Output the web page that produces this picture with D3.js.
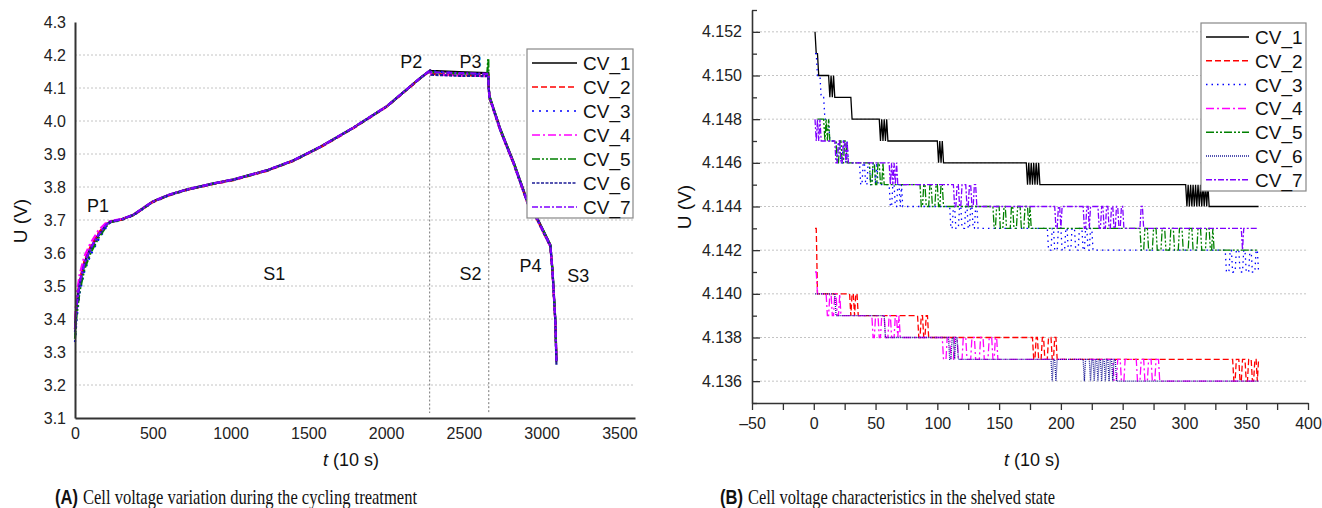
<!DOCTYPE html>
<html>
<head>
<meta charset="utf-8">
<script src="https://cdn.jsdelivr.net/npm/d3@7"></script>
<style>
body { margin: 0; background: #fff; }
svg { display: block; font-family: "Liberation Sans", Arial, sans-serif; }
</style>
</head>
<body>
<svg id="chart" width="1322" height="508"></svg>
<script>
// ---- series definitions ----
var seriesNames = ["CV_1", "CV_2", "CV_3", "CV_4", "CV_5", "CV_6", "CV_7"];
var seriesColors = ["#000000", "#ff0000", "#0000ff", "#ff00ff", "#008000", "#1c1c96", "#8000ff"];
var seriesDash = ["", "6,3", "2,5", "8,3,2,3", "8,2,2,2,2,2", "3,1.5", "6,2,2,2"];

// ---- (A) cycling treatment, t in 10 s ----
var cycleTime = [0, 10, 30, 60, 100, 150, 200, 225, 300, 375,
	500, 600, 720, 890, 1020, 1235, 1405, 1577, 1789, 2007,
	2220, 2270, 2282, 2290, 2470, 2650, 2657, 2659, 2665, 2735,
	2820, 2910, 2972, 3056, 3070, 3088, 3095];
var cycleCV1 = [3.37, 3.44, 3.51, 3.57, 3.615, 3.655, 3.685, 3.695, 3.702, 3.716,
	3.756, 3.776, 3.793, 3.811, 3.823, 3.851, 3.881, 3.922, 3.980, 4.046,
	4.131, 4.149, 4.153, 4.152, 4.148, 4.145, 4.145, 4.105, 4.075, 3.975,
	3.875, 3.755, 3.705, 3.625, 3.545, 3.395, 3.27];
var cycleCV2 = [3.37, 3.445, 3.515, 3.575, 3.62, 3.66, 3.688, 3.694, 3.701, 3.714,
	3.754, 3.774, 3.791, 3.809, 3.821, 3.849, 3.879, 3.920, 3.978, 4.044,
	4.129, 4.147, 4.151, 4.143, 4.139, 4.137, 4.137, 4.100, 4.070, 3.970,
	3.870, 3.750, 3.700, 3.620, 3.540, 3.390, 3.28];
var cycleCV3 = [3.33, 3.40, 3.48, 3.545, 3.595, 3.64, 3.678, 3.692, 3.700, 3.714,
	3.754, 3.774, 3.791, 3.810, 3.822, 3.850, 3.880, 3.921, 3.979, 4.045,
	4.130, 4.148, 4.152, 4.151, 4.145, 4.141, 4.141, 4.102, 4.072, 3.972,
	3.872, 3.752, 3.702, 3.622, 3.542, 3.392, 3.27];
var cycleCV4 = [3.40, 3.47, 3.535, 3.59, 3.63, 3.668, 3.692, 3.697, 3.703, 3.716,
	3.756, 3.776, 3.792, 3.810, 3.822, 3.850, 3.880, 3.921, 3.979, 4.045,
	4.130, 4.148, 4.152, 4.141, 4.138, 4.136, 4.136, 4.100, 4.070, 3.970,
	3.870, 3.750, 3.700, 3.620, 3.540, 3.390, 3.28];
var cycleCV5 = [3.34, 3.41, 3.485, 3.55, 3.60, 3.645, 3.68, 3.693, 3.701, 3.715,
	3.755, 3.775, 3.792, 3.810, 3.822, 3.850, 3.880, 3.921, 3.979, 4.045,
	4.130, 4.148, 4.152, 4.148, 4.144, 4.142, 4.19, 4.104, 4.074, 3.974,
	3.874, 3.754, 3.704, 3.624, 3.544, 3.394, 3.27];
var cycleCV6 = [3.36, 3.435, 3.505, 3.565, 3.612, 3.652, 3.684, 3.694, 3.702, 3.715,
	3.755, 3.775, 3.792, 3.810, 3.822, 3.850, 3.880, 3.921, 3.979, 4.045,
	4.130, 4.148, 4.152, 4.140, 4.137, 4.136, 4.136, 4.100, 4.070, 3.970,
	3.870, 3.750, 3.700, 3.620, 3.540, 3.390, 3.26];
var cycleCV7 = [3.37, 3.44, 3.51, 3.57, 3.615, 3.655, 3.686, 3.695, 3.702, 3.716,
	3.756, 3.776, 3.793, 3.811, 3.823, 3.851, 3.881, 3.922, 3.980, 4.046,
	4.131, 4.149, 4.153, 4.148, 4.145, 4.143, 4.143, 4.103, 4.073, 3.973,
	3.873, 3.753, 3.703, 3.623, 3.543, 3.393, 3.27];

var cycleTicksY = [3.1, 3.2, 3.3, 3.4, 3.5, 3.6, 3.7, 3.8, 3.9, 4.0, 4.1, 4.2, 4.3];
var cycleGridY = [3.2, 3.3, 3.4, 3.5, 3.6, 3.7, 3.8, 3.9, 4.0, 4.1, 4.2];
var cycleTicksX = [0, 500, 1000, 1500, 2000, 2500, 3000, 3500];
// stage boundaries: [t, top voltage]
var stageLines = [[2280, 4.150], [2660, 4.142]];
var stageLabels = [
	{text: "P1", t: 77, v: 3.724},
	{text: "P2", t: 2091, v: 4.161},
	{text: "P3", t: 2471, v: 4.161},
	{text: "S1", t: 1210, v: 3.518},
	{text: "S2", t: 2471, v: 3.518},
	{text: "P4", t: 2857, v: 3.542},
	{text: "S3", t: 3165, v: 3.512}
];

// ---- (B) shelved state: [t, U] at each sample where the reading changes ----
var shelfCV1 = [[1,4.152],[2,4.151],[4,4.150],[13,4.149],[14,4.150],[15,4.149],[16,4.150],[17,4.149],
	[31,4.148],[54,4.147],[55,4.148],[56,4.147],[57,4.148],[58,4.147],[59,4.148],[60,4.147],
	[101,4.146],[102,4.147],[103,4.146],[104,4.147],[105,4.146],
	[173,4.145],[174,4.146],[175,4.145],[176,4.146],[177,4.145],[178,4.146],[179,4.145],[180,4.146],[181,4.145],[182,4.146],[183,4.145],
	[302,4.144],[303,4.145],[304,4.144],[305,4.145],[306,4.144],[307,4.145],[308,4.144],[309,4.145],[310,4.144],[311,4.145],
	[312,4.144],[313,4.145],[314,4.144],[315,4.145],[316,4.144],[317,4.145],[318,4.144],[319,4.145],[320,4.144],[360,4.144]];
var shelfCV2 = [[1,4.143],[2,4.143],[3,4.140],
	[30,4.139],[31,4.140],[33,4.139],[34,4.140],[36,4.139],
	[85,4.138],[87,4.139],[89,4.138],[91,4.139],[93,4.138],
	[178,4.137],[180,4.138],[182,4.137],[185,4.138],[187,4.137],[190,4.138],[193,4.137],[195,4.138],[197,4.137],
	[340,4.136],[342,4.137],[345,4.136],[347,4.137],[350,4.136],[352,4.137],[355,4.136],[357,4.137],[359,4.136],[360,4.137]];
var shelfCV3 = [[1,4.151],[3,4.150],[6,4.149],[9,4.148],[13,4.147],
	[19,4.146],[20,4.147],[22,4.146],[24,4.147],[26,4.146],[27,4.147],[28,4.146],
	[38,4.145],[40,4.146],[42,4.145],[44,4.146],[46,4.145],[48,4.146],[50,4.145],[51,4.146],[52,4.145],
	[62,4.144],[64,4.145],[66,4.144],[68,4.145],[70,4.144],[71,4.145],[72,4.144],
	[111,4.143],[113,4.144],[115,4.143],[118,4.144],[120,4.143],[123,4.144],[125,4.143],[127,4.144],[129,4.143],[131,4.144],[133,4.143],
	[190,4.142],[193,4.143],[195,4.142],[198,4.143],[201,4.142],[204,4.143],[206,4.142],[209,4.143],[212,4.142],[215,4.143],
	[218,4.142],[220,4.143],[222,4.142],[224,4.143],[226,4.142],
	[334,4.141],[337,4.142],[339,4.141],[342,4.142],[345,4.141],[348,4.142],[350,4.141],[353,4.142],[355,4.141],[358,4.142],[360,4.141]];
var shelfCV4 = [[1,4.141],[3,4.140],
	[11,4.139],[13,4.140],[15,4.139],[17,4.140],[19,4.139],[21,4.140],[22,4.139],
	[48,4.138],[50,4.139],[53,4.138],[55,4.139],[58,4.138],[61,4.139],[63,4.138],[66,4.139],[68,4.138],[69,4.139],[70,4.138],
	[105,4.137],[108,4.138],[111,4.137],[114,4.138],[117,4.137],[121,4.138],[124,4.137],[128,4.138],[131,4.137],[135,4.138],
	[138,4.137],[142,4.138],[145,4.137],[147,4.138],[149,4.137],
	[243,4.136],[246,4.137],[249,4.136],[252,4.137],[262,4.136],[265,4.137],[268,4.136],[271,4.137],[274,4.136],[277,4.137],[280,4.136],[360,4.136]];
var shelfCV5 = [[3,4.148],[9,4.147],[10,4.148],[11,4.147],[12,4.148],[13,4.147],
	[19,4.146],[21,4.147],[23,4.146],[25,4.147],[27,4.146],
	[46,4.145],[48,4.146],[50,4.145],[52,4.146],[54,4.145],[56,4.146],[57,4.145],
	[87,4.144],[89,4.145],[91,4.144],[94,4.145],[96,4.144],[99,4.145],[101,4.144],[103,4.145],[105,4.144],
	[146,4.143],[148,4.144],[151,4.143],[154,4.144],[156,4.143],[160,4.144],[162,4.143],[165,4.144],[168,4.143],[171,4.144],
	[174,4.143],[175,4.144],[176,4.143],
	[265,4.142],[268,4.143],[271,4.142],[275,4.143],[278,4.142],[282,4.143],[285,4.142],[289,4.143],[292,4.142],[296,4.143],
	[299,4.142],[304,4.143],[307,4.142],[311,4.143],[314,4.142],[318,4.143],[321,4.142],[323,4.143],[324,4.142],[360,4.142]];
var shelfCV6 = [[1,4.140],[18,4.139],[58,4.138],
	[110,4.137],[112,4.138],[114,4.137],[115,4.138],[117,4.137],
	[193,4.136],[194,4.137],[196,4.136],[197,4.137],
	[219,4.136],[220,4.137],[224,4.136],[225,4.137],[227,4.136],[228,4.137],[230,4.136],[231,4.137],[233,4.136],[234,4.137],
	[236,4.136],[237,4.137],[239,4.136],[240,4.137],[242,4.136],[243,4.137],[245,4.136],[360,4.136]];
var shelfCV7 = [[1,4.148],[2,4.147],[3,4.148],[4,4.147],[5,4.148],[6,4.147],
	[18,4.146],[20,4.147],[22,4.146],[24,4.147],[26,4.146],[27,4.147],[28,4.146],
	[62,4.145],[63,4.146],[64,4.145],[65,4.146],[66,4.145],[67,4.146],[68,4.145],
	[114,4.144],[116,4.145],[118,4.144],[120,4.145],[124,4.144],[126,4.145],[128,4.144],[130,4.145],[132,4.144],
	[196,4.143],[198,4.144],[200,4.143],[201,4.144],[219,4.143],[221,4.144],[223,4.143],[224,4.144],
	[231,4.143],[233,4.144],[235,4.143],[237,4.144],[239,4.143],[241,4.144],[243,4.143],[245,4.144],[247,4.143],[249,4.144],[251,4.143],
	[265,4.144],[267,4.143],[347,4.142],[348,4.143],[360,4.143]];

var shelfTicksY = [4.136, 4.138, 4.140, 4.142, 4.144, 4.146, 4.148, 4.150, 4.152];
var shelfMinorY = [4.135, 4.137, 4.139, 4.141, 4.143, 4.145, 4.147, 4.149, 4.151, 4.153];
var shelfTicksX = [-50, 0, 50, 100, 150, 200, 250, 300, 350, 400];
var shelfMinorX = [-25, 25, 75, 125, 175, 225, 275, 325, 375];

var cycleSeries = [cycleCV1, cycleCV2, cycleCV3, cycleCV4, cycleCV5, cycleCV6, cycleCV7];
var shelfSeries = [shelfCV1, shelfCV2, shelfCV3, shelfCV4, shelfCV5, shelfCV6, shelfCV7];

var svg = d3.select("#chart");

/**
 * Legend box drawn over the plot.
 */
function drawLegend(g, box, rowY, rowH, lineX0, lineX1, textX, dashMod){
	var lg = g.append("g");
	lg.append("rect")
	.attr("x", box[0]).attr("y", box[1])
	.attr("width", box[2]).attr("height", box[3])
	.attr("fill", "#fff")
	.attr("stroke", "#888")
	.attr("stroke-width", 1.2);
	seriesNames.forEach(function(name, i){
		var y = rowY + i * rowH;
		lg.append("line")
		.attr("x1", lineX0).attr("x2", lineX1)
		.attr("y1", y).attr("y2", y)
		.attr("stroke", seriesColors[i])
		.attr("stroke-width", 1.5)
		.attr("stroke-dasharray", dashMod[i]);
		lg.append("text")
		.attr("x", textX).attr("y", y + 7)
		.attr("font-size", 19)
		.attr("fill", "#111")
		.text(name);
	});
}

function axisTitleX(x, y){
	var t = svg.append("text")
	.attr("x", x).attr("y", y)
	.attr("text-anchor", "middle")
	.attr("font-size", 18)
	.attr("fill", "#111");
	t.append("tspan").attr("font-style", "italic").text("t");
	t.append("tspan").text(" (10 s)");
}

function axisTitleY(x, y){
	svg.append("text")
	.attr("transform", "translate(" + x + "," + y + ") rotate(-90)")
	.attr("text-anchor", "middle")
	.attr("font-size", 19)
	.attr("fill", "#111")
	.text("U (V)");
}

function caption(x, x2, width, label, text){
	svg.append("text")
	.attr("x", x).attr("y", 504)
	.attr("font-family", "'Liberation Sans', Arial, sans-serif")
	.attr("font-weight", "bold")
	.attr("font-size", 20)
	.attr("fill", "#111")
	.attr("textLength", 23)
	.attr("lengthAdjust", "spacingAndGlyphs")
	.text(label);
	svg.append("text")
	.attr("x", x2).attr("y", 504)
	.attr("font-family", "'Liberation Serif', 'Times New Roman', serif")
	.attr("font-size", 21)
	.attr("fill", "#111")
	.attr("textLength", width)
	.attr("lengthAdjust", "spacingAndGlyphs")
	.text(text);
}

// ================= (A) =================
(function(){
	var x = d3.scaleLinear().domain([0, 3600]).range([75, 635]);
	var y = d3.scaleLinear().domain([3.1, 4.3]).range([418, 22]);
	var g = svg.append("g");

	g.selectAll("line.grid")
	.data(cycleGridY)
	.enter().append("line")
	.attr("class", "grid")
	.attr("x1", x(0)).attr("x2", x(3600))
	.attr("y1", function(d){ return y(d); })
	.attr("y2", function(d){ return y(d); })
	.attr("stroke", "#c4c4c4")
	.attr("stroke-dasharray", "2,2");

	g.selectAll("line.stage")
	.data(stageLines)
	.enter().append("line")
	.attr("class", "stage")
	.attr("x1", function(d){ return x(d[0]); })
	.attr("x2", function(d){ return x(d[0]); })
	.attr("y1", function(d){ return y(d[1]); })
	.attr("y2", y(3.115))
	.attr("stroke", "#777")
	.attr("stroke-dasharray", "2,2");

	var line = d3.line()
	.x(function(d){ return x(d[0]); })
	.y(function(d){ return y(d[1]); });

	cycleSeries.forEach(function(vals, i){
		var pts = cycleTime.map(function(t, k){ return [t, vals[k]]; });
		g.append("path")
		.attr("d", line(pts))
		.attr("fill", "none")
		.attr("stroke", seriesColors[i])
		.attr("stroke-width", 2.2)
		.attr("stroke-dasharray", seriesDash[i]);
	});

	var ay = g.append("g")
	.attr("transform", "translate(" + x(0) + ",0)")
	.call(d3.axisLeft(y).tickValues(cycleTicksY).tickFormat(d3.format(".1f")).tickSize(0).tickPadding(9));
	var ax = g.append("g")
	.attr("transform", "translate(0," + y(3.1) + ")")
	.call(d3.axisBottom(x).tickValues(cycleTicksX).tickFormat(d3.format("d")).tickSize(0).tickPadding(10));
	[ax, ay].forEach(function(a){
		a.select(".domain").attr("stroke", "#333").attr("stroke-width", 2);
		a.selectAll("text").attr("font-size", 16).attr("fill", "#222").attr("font-family", "'Liberation Sans', Arial, sans-serif");
	});

	g.selectAll("text.stagelabel")
	.data(stageLabels)
	.enter().append("text")
	.attr("class", "stagelabel")
	.attr("x", function(d){ return x(d.t); })
	.attr("y", function(d){ return y(d.v); })
	.attr("font-size", 18)
	.attr("fill", "#111")
	.text(function(d){ return d.text; });

	drawLegend(g, [527, 49, 106, 169], 63, 24, 532, 577, 583, seriesDash);
	axisTitleX(351, 466);
	axisTitleY(27, 221);
	caption(55, 83, 334, "(A)", "Cell voltage variation during the cycling treatment");
})();

// ================= (B) =================
(function(){
	var x = d3.scaleLinear().domain([-50, 400]).range([752, 1308]);
	var y = d3.scaleLinear().domain([4.135, 4.153]).range([403, 10]);
	var g = svg.append("g");

	g.selectAll("line.grid")
	.data(shelfTicksY)
	.enter().append("line")
	.attr("class", "grid")
	.attr("x1", x(-50)).attr("x2", x(400))
	.attr("y1", function(d){ return y(d); })
	.attr("y2", function(d){ return y(d); })
	.attr("stroke", "#c4c4c4")
	.attr("stroke-dasharray", "2,2");

	var line = d3.line()
	.x(function(d){ return x(d[0]); })
	.y(function(d){ return y(d[1]); });

	// a reading holds until the sample before the next change
	function holdPoints(changes){
		var pts = [];
		changes.forEach(function(c, k){
			if ( k > 0 ){
				var prev = changes[k - 1];
				if ( c[0] - 1 > prev[0] )
					pts.push([c[0] - 1, prev[1]]);
			}
			pts.push(c);
		});
		return pts;
	}

	var shelfDash = ["", "6,3", "1.5,4", "8,3,2,3", "8,2,2,2,2,2", "1,1", "6,2,2,2"];
	shelfSeries.forEach(function(changes, i){
		g.append("path")
		.attr("d", line(holdPoints(changes)))
		.attr("fill", "none")
		.attr("stroke", seriesColors[i])
		.attr("stroke-width", 1.3)
		.attr("stroke-dasharray", shelfDash[i]);
	});

	var fmt = function(d){ return d < 0 ? "\u2013" + Math.abs(d) : String(d); };
	var ax = g.append("g")
	.attr("transform", "translate(0," + y(4.135) + ")")
	.call(d3.axisBottom(x).tickValues(shelfTicksX).tickFormat(fmt).tickSizeInner(7).tickSizeOuter(0).tickPadding(8));
	g.append("g")
	.attr("transform", "translate(0," + y(4.135) + ")")
	.call(d3.axisBottom(x).tickValues(shelfMinorX).tickFormat("").tickSizeInner(7).tickSizeOuter(0))
	.select(".domain").remove();
	var ay = g.append("g")
	.attr("transform", "translate(" + x(-50) + ",0)")
	.call(d3.axisLeft(y).tickValues(shelfTicksY).tickFormat(d3.format(".3f")).tickSizeInner(-8).tickSizeOuter(0).tickPadding(10));
	g.append("g")
	.attr("transform", "translate(" + x(-50) + ",0)")
	.call(d3.axisLeft(y).tickValues(shelfMinorY).tickFormat("").tickSizeInner(-5).tickSizeOuter(0))
	.select(".domain").remove();
	g.selectAll(".tick line").attr("stroke", "#333").attr("stroke-width", 1.3);
	[ax, ay].forEach(function(a){
		a.select(".domain").attr("stroke", "#333").attr("stroke-width", 1.6);
		a.selectAll("text").attr("font-size", 16).attr("fill", "#222").attr("font-family", "'Liberation Sans', Arial, sans-serif");
	});

	drawLegend(g, [1201, 23, 105, 168], 37, 23.8, 1206, 1249, 1255, shelfDash);
	axisTitleX(1032, 466);
	axisTitleY(691, 207);
	caption(720, 748, 307, "(B)", "Cell voltage characteristics in the shelved state");
})();
</script>
</body>
</html>
